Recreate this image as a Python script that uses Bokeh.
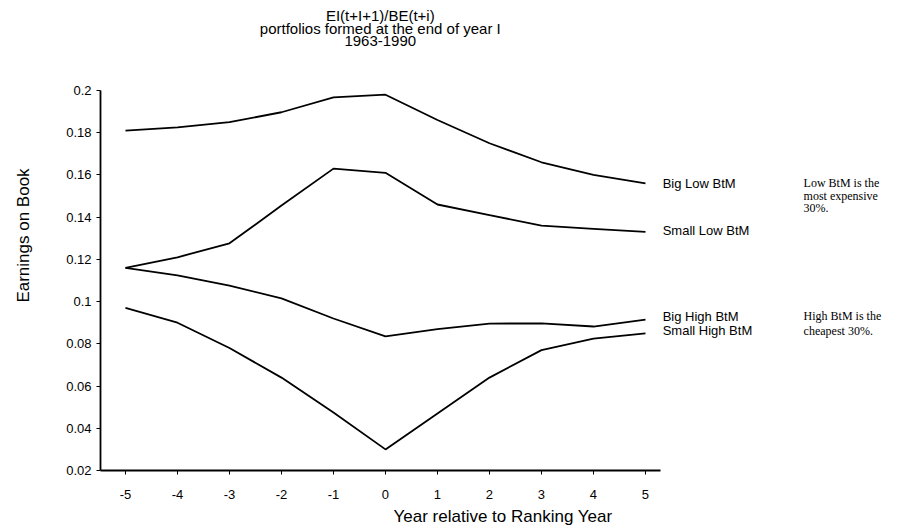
from bokeh.plotting import figure
from bokeh.models import Range1d, FixedTicker, Label
from bokeh.embed import file_html
from bokeh.resources import INLINE

years = [-5, -4, -3, -2, -1, 0, 1, 2, 3, 4, 5]
big_low = [0.181, 0.1825, 0.185, 0.1897, 0.1967, 0.198, 0.186, 0.175, 0.166, 0.160, 0.156]
small_low = [0.116, 0.121, 0.1276, 0.1455, 0.163, 0.161, 0.146, 0.141, 0.136, 0.1345, 0.133]
big_high = [0.116, 0.1124, 0.1076, 0.1015, 0.092, 0.0835, 0.087, 0.0896, 0.0897, 0.0882, 0.0915]
small_high = [0.097, 0.090, 0.078, 0.064, 0.0475, 0.030, 0.047, 0.064, 0.077, 0.0825, 0.085]
series_names = ["Big Low BtM", "Small Low BtM", "Big High BtM", "Small High BtM"]

y_ticks = [0.02, 0.04, 0.06, 0.08, 0.1, 0.12, 0.14, 0.16, 0.18, 0.2]
y_tick_labels = ["0.02", "0.04", "0.06", "0.08", "0.1", "0.12", "0.14", "0.16", "0.18", "0.2"]
x_ticks = [-5, -4, -3, -2, -1, 0, 1, 2, 3, 4, 5]
x_tick_labels = ["-5", "-4", "-3", "-2", "-1", "0", "1", "2", "3", "4", "5"]

title_lines = ["EI(t+I+1)/BE(t+i)", "portfolios formed at the end of year I", "1963-1990"]
note_low = ["Low BtM is the", "most  expensive", "30%."]
note_high = ["High BtM is the", "cheapest 30%."]

SANS = "Liberation Sans"
SERIF = "Liberation Serif"

# frame spans the whole drawing area; axes are bounded to the data region
p = figure(width=910, height=528, output_backend="svg", toolbar_location=None,
           x_range=Range1d(-5.48, 10.0), y_range=Range1d(0.02, 0.24263),
           min_border_left=100, min_border_top=0, min_border_bottom=58, min_border_right=5)
p.outline_line_color = None
p.grid.grid_line_color = None
p.background_fill_color = "white"

for ys in [big_low, small_low, big_high, small_high]:
    p.line(years, ys, line_color="black", line_width=1.8)

# axes
p.yaxis.ticker = FixedTicker(ticks=y_ticks)
p.yaxis.major_label_overrides = {t: l for t, l in zip(y_ticks, y_tick_labels)}
p.yaxis.bounds = (0.02, 0.2)
p.xaxis.ticker = FixedTicker(ticks=x_ticks)
p.xaxis.major_label_overrides = {t: l for t, l in zip(x_ticks, x_tick_labels)}
p.xaxis.bounds = (-5.48, 5.29)
for ax in [p.xaxis[0], p.yaxis[0]]:
    ax.axis_line_color = "black"
    ax.axis_line_width = 1.8
    ax.major_tick_line_color = "black"
    ax.major_tick_in = 0
    ax.major_tick_out = 4
    ax.minor_tick_line_color = None
    ax.major_label_text_font = SANS
    ax.major_label_text_font_size = "13px"
    ax.major_label_text_color = "black"
    ax.axis_label_text_font = SANS
    ax.axis_label_text_font_style = "normal"
    ax.axis_label_text_color = "black"
    ax.axis_label_text_font_size = "17px"
p.yaxis.axis_label = "Earnings on Book"
p.yaxis.axis_label_standoff = 30
p.xaxis.axis_label = "Year relative to Ranking Year"
p.xaxis.axis_label_standoff = 5
p.xaxis.major_label_standoff = 15

# title lines
for txt, yy in zip(title_lines, [0.2353, 0.2292, 0.2236]):
    p.add_layout(Label(x=-0.1, y=yy, text=txt, text_align="center", text_baseline="middle",
                       text_font=SANS, text_font_size="15px", text_color="black"))

# series labels at right end
label_y = [0.156, 0.1337, 0.093, 0.0863]
for name, yy in zip(series_names, label_y):
    p.add_layout(Label(x=5.33, y=yy, text=name, text_align="left", text_baseline="middle",
                       text_font=SANS, text_font_size="13px", text_color="black"))

# notes
for txt, yy in zip(note_low, [0.156, 0.150, 0.1443]):
    p.add_layout(Label(x=8.04, y=yy, text=txt, text_align="left", text_baseline="middle",
                       text_font=SERIF, text_font_size="12px", text_color="black"))
for txt, yy in zip(note_high, [0.093, 0.0863]):
    p.add_layout(Label(x=8.04, y=yy, text=txt, text_align="left", text_baseline="middle",
                       text_font=SERIF, text_font_size="12px", text_color="black"))

open("out.html", "w").write(file_html(p, INLINE))
